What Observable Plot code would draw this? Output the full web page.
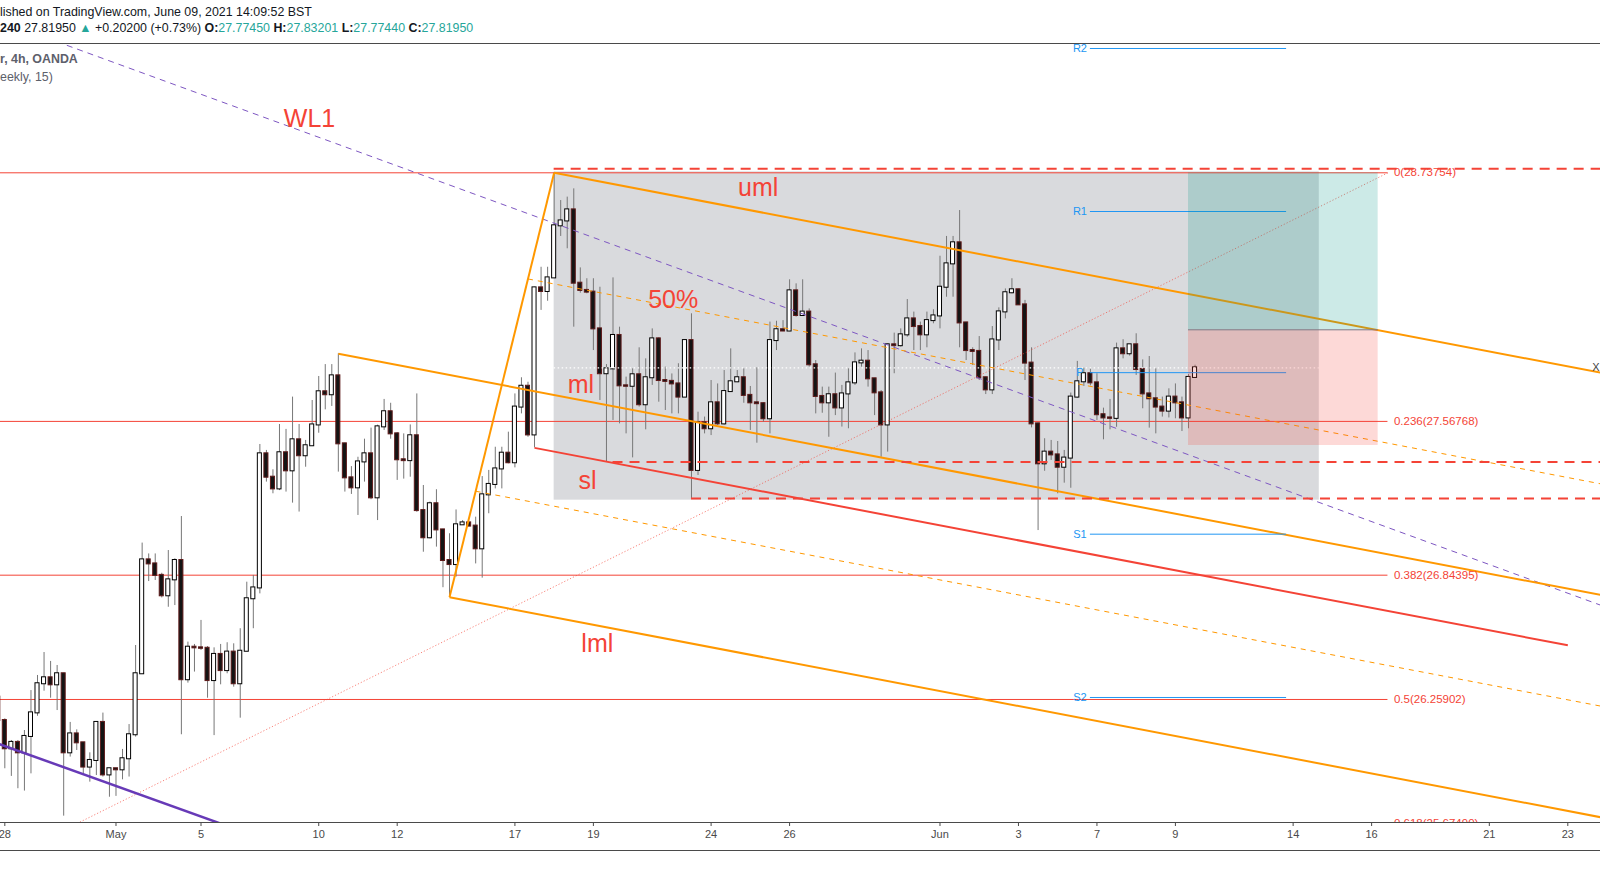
<!DOCTYPE html>
<html>
<head>
<meta charset="utf-8">
<script src="https://cdn.jsdelivr.net/npm/d3@7"></script>
<script src="https://cdn.jsdelivr.net/npm/@observablehq/plot@0.6"></script>
<style>
  body { margin: 0; background: #ffffff; }
  #wrap { position: relative; width: 1600px; height: 887px; overflow: hidden; font-family: "Liberation Sans", Arial, sans-serif; }
  #chart { position: absolute; left: 0; top: 0; }
  .hd { position: absolute; left: 0; white-space: nowrap; font-size: 12.4px; line-height: 13px; color: #131722; }
  .hd .tl { color: #26a69a; }
  .hd.g { color: #5d606b; }
  #bottomLine { position: absolute; left: 0; top: 850px; width: 1600px; height: 1px; background: #4a4a4a; }
</style>
</head>
<body>
<div id="wrap">
  <div id="chart"></div>
  <div class="hd" style="top:6px">lished on TradingView.com, June 09, 2021 14:09:52 BST</div>
  <div class="hd" style="top:22px"><b>240</b> 27.81950 <span class="tl">▲</span> +0.20200 (+0.73%) <b>O:</b><span class="tl">27.77450</span> <b>H:</b><span class="tl">27.83201</span> <b>L:</b><span class="tl">27.77440</span> <b>C:</b><span class="tl">27.81950</span></div>
  <div class="hd g" style="top:53px"><b>r, 4h, OANDA</b></div>
  <div class="hd g" style="top:71px">eekly, 15)</div>
  <div id="bottomLine"></div>
</div>
<script>
// ---------- 4h candles (bar -1 .. 182) ----------
const opens = [
26.270, 26.160, 26.027, 26.057, 26.008, 26.085, 26.196, 26.333, 26.361, 26.328,
26.380, 26.008, 26.097, 26.055, 25.941, 25.972, 26.151, 25.904, 25.933, 25.928,
25.980, 26.093, 26.380, 26.916, 26.897, 26.843, 26.747, 26.822, 26.913, 26.352,
26.505, 26.502, 26.500, 26.348, 26.471, 26.395, 26.482, 26.333, 26.486, 26.733,
26.784, 27.415, 27.305, 27.250, 27.420, 27.335, 27.481, 27.406, 27.453, 27.551,
27.707, 27.693, 27.782, 27.462, 27.302, 27.255, 27.377, 27.415, 27.208, 27.542,
27.613, 27.509, 27.387, 27.383, 27.500, 27.148, 27.020, 27.180, 27.057, 26.913,
26.894, 27.081, 27.090, 27.075, 26.968, 27.222, 27.271, 27.344, 27.418, 27.373,
27.635, 27.733, 27.504, 28.196, 28.179, 28.243, 28.488, 28.511, 28.563, 28.218,
28.184, 28.176, 28.003, 27.792, 27.815, 27.972, 27.735, 27.733, 27.787, 27.646,
27.773, 27.956, 27.760, 27.756, 27.744, 27.682, 27.948, 27.337, 27.561, 27.533,
27.655, 27.556, 27.708, 27.754, 27.773, 27.690, 27.655, 27.651, 27.580, 27.948,
27.999, 27.993, 28.182, 28.066, 28.082, 27.834, 27.685, 27.655, 27.693, 27.631,
27.697, 27.749, 27.843, 27.851, 27.768, 27.702, 27.551, 27.928, 27.924, 27.975,
28.050, 28.014, 27.975, 28.042, 28.064, 28.199, 28.309, 28.408, 28.031, 27.901,
27.897, 27.773, 27.716, 27.951, 28.083, 28.173, 28.187, 28.116, 27.842, 27.556,
27.368, 27.423, 27.410, 27.352, 27.395, 27.682, 27.754, 27.792, 27.749, 27.599,
27.584, 27.582, 27.909, 27.886, 27.928, 27.812, 27.697, 27.674, 27.635, 27.616,
27.682, 27.655, 27.584, 27.7745
];
const highs = [
26.280, 26.168, 26.066, 26.066, 26.113, 26.301, 26.372, 26.480, 26.438, 26.419,
26.382, 26.151, 26.116, 26.055, 26.008, 26.155, 26.195, 25.933, 25.933, 26.024,
26.141, 26.513, 26.995, 26.944, 26.944, 26.853, 26.960, 26.921, 27.120, 26.529,
26.518, 26.631, 26.508, 26.502, 26.518, 26.526, 26.521, 26.592, 26.811, 26.843,
27.459, 27.431, 27.340, 27.553, 27.530, 27.682, 27.553, 27.478, 27.666, 27.779,
27.835, 27.835, 27.886, 27.465, 27.355, 27.399, 27.484, 27.536, 27.550, 27.671,
27.653, 27.515, 27.509, 27.551, 27.697, 27.266, 27.188, 27.246, 27.060, 27.039,
27.151, 27.101, 27.093, 27.117, 27.308, 27.337, 27.446, 27.446, 27.517, 27.697,
27.773, 27.752, 28.199, 28.293, 28.293, 28.738, 28.607, 28.623, 28.662, 28.290,
28.239, 28.239, 28.199, 27.835, 28.243, 28.011, 27.776, 27.815, 27.914, 27.862,
28.003, 27.961, 27.823, 27.791, 27.839, 27.952, 28.074, 27.611, 27.588, 27.760,
27.744, 27.807, 27.909, 27.807, 27.815, 27.732, 27.820, 27.656, 28.035, 28.039,
28.042, 28.234, 28.215, 28.234, 28.097, 27.854, 27.729, 27.729, 27.795, 27.737,
27.815, 27.890, 27.909, 27.901, 27.770, 27.713, 27.932, 27.983, 28.003, 28.141,
28.082, 28.035, 28.082, 28.093, 28.345, 28.438, 28.438, 28.560, 28.034, 27.914,
27.967, 27.776, 28.014, 28.102, 28.191, 28.239, 28.190, 28.137, 27.914, 27.560,
27.486, 27.478, 27.473, 27.431, 27.701, 27.850, 27.818, 27.815, 27.792, 27.630,
27.671, 27.936, 27.952, 27.930, 27.980, 27.857, 27.873, 27.815, 27.682, 27.721,
27.744, 27.682, 27.788, 27.83201
];
const lows = [
26.150, 25.933, 25.897, 25.839, 25.828, 25.909, 26.180, 26.298, 26.265, 26.207,
25.710, 25.988, 26.019, 25.909, 25.870, 25.901, 25.894, 25.799, 25.803, 25.881,
25.894, 26.082, 26.378, 26.814, 26.819, 26.737, 26.693, 26.701, 26.093, 26.336,
26.388, 26.490, 26.265, 26.089, 26.328, 26.380, 26.317, 26.171, 26.484, 26.592,
26.756, 27.282, 27.227, 27.242, 27.235, 27.183, 27.141, 27.352, 27.450, 27.512,
27.622, 27.638, 27.329, 27.235, 27.224, 27.125, 27.282, 27.199, 27.101, 27.525,
27.484, 27.290, 27.296, 27.305, 27.140, 26.952, 27.015, 26.976, 26.785, 26.740,
26.835, 27.078, 27.072, 26.897, 26.830, 27.133, 27.250, 27.250, 27.368, 27.349,
27.603, 27.493, 27.443, 28.090, 28.133, 28.240, 28.438, 28.380, 28.011, 28.171,
28.168, 27.901, 27.666, 27.376, 27.572, 27.556, 27.509, 27.396, 27.635, 27.528,
27.737, 27.658, 27.619, 27.603, 27.603, 27.680, 27.205, 27.313, 27.509, 27.501,
27.548, 27.550, 27.705, 27.750, 27.653, 27.525, 27.465, 27.564, 27.509, 27.901,
27.990, 27.990, 28.058, 28.062, 27.823, 27.603, 27.606, 27.493, 27.595, 27.541,
27.533, 27.737, 27.823, 27.729, 27.595, 27.399, 27.423, 27.792, 27.917, 27.964,
27.901, 27.901, 27.914, 28.027, 28.003, 28.152, 28.152, 27.914, 27.854, 27.831,
27.760, 27.694, 27.694, 27.901, 28.050, 28.168, 28.113, 27.760, 27.537, 27.054,
27.333, 27.384, 27.227, 27.277, 27.253, 27.677, 27.732, 27.735, 27.572, 27.481,
27.528, 27.540, 27.862, 27.875, 27.784, 27.627, 27.536, 27.509, 27.588, 27.584,
27.580, 27.520, 27.533, 27.7744
];
const closes = [
26.160, 26.027, 26.057, 26.008, 26.085, 26.196, 26.333, 26.361, 26.328, 26.380,
26.008, 26.097, 26.055, 25.941, 25.972, 26.151, 25.904, 25.933, 25.928, 25.980,
26.093, 26.380, 26.916, 26.897, 26.843, 26.747, 26.822, 26.913, 26.352, 26.505,
26.502, 26.500, 26.348, 26.471, 26.395, 26.482, 26.333, 26.486, 26.733, 26.784,
27.415, 27.305, 27.250, 27.420, 27.335, 27.481, 27.406, 27.453, 27.551, 27.707,
27.693, 27.782, 27.462, 27.302, 27.255, 27.377, 27.415, 27.208, 27.542, 27.613,
27.509, 27.387, 27.383, 27.500, 27.148, 27.020, 27.180, 27.057, 26.913, 26.894,
27.081, 27.090, 27.075, 26.968, 27.222, 27.271, 27.344, 27.418, 27.373, 27.635,
27.733, 27.504, 28.196, 28.179, 28.243, 28.488, 28.511, 28.563, 28.218, 28.184,
28.176, 28.003, 27.792, 27.815, 27.972, 27.735, 27.733, 27.787, 27.646, 27.773,
27.956, 27.760, 27.756, 27.744, 27.682, 27.948, 27.337, 27.561, 27.533, 27.655,
27.556, 27.708, 27.754, 27.773, 27.690, 27.655, 27.651, 27.580, 27.948, 27.999,
27.993, 28.182, 28.066, 28.082, 27.834, 27.685, 27.655, 27.693, 27.631, 27.697,
27.749, 27.843, 27.851, 27.768, 27.702, 27.551, 27.928, 27.924, 27.975, 28.050,
28.014, 27.975, 28.042, 28.064, 28.199, 28.309, 28.408, 28.031, 27.901, 27.897,
27.773, 27.716, 27.951, 28.083, 28.173, 28.187, 28.116, 27.842, 27.556, 27.368,
27.423, 27.410, 27.352, 27.395, 27.682, 27.754, 27.792, 27.749, 27.599, 27.584,
27.582, 27.909, 27.886, 27.928, 27.812, 27.697, 27.674, 27.635, 27.616, 27.682,
27.655, 27.584, 27.7745, 27.8195
];
const firstBar = -1;

// ---------- x axis (bar index of each labelled day) ----------
const tickBars   = [0, 17, 30, 48, 60, 78, 90, 108, 120, 143, 155, 167, 179, 197, 209, 227, 239];
const tickLabels = ["28", "May", "5", "10", "12", "17", "19", "24", "26", "Jun", "3", "7", "9", "14", "16", "21", "23"];
const barDomain   = [-0.66, 244.0];
const priceDomain = [25.6801, 29.3460];

// ---------- Fibonacci retracement ----------
const fibRatios = ["0", "0.236", "0.382", "0.5", "0.618"];
const fibPrices = [28.73754, 27.56768, 26.84395, 26.25902, 25.67490];
const fibAnchorBars   = [-113, 211.5];
const fibAnchorPrices = [23.7805, 28.73754];

// ---------- pivot points (weekly) ----------
const pivotNames  = ["R2", "R1", "P", "S1", "S2"];
const pivotPrices = [29.3225, 28.5554, 27.797, 27.0369, 26.2684];
const pivotBars   = [166, 196];
const pivotLabelBar = 164.4;

// ---------- pitchfork and trend lines (bar, price) ----------
const forkLines = [
  {bar1: 68, price1: 26.740, bar2: 84,  price2: 28.7375},
  {bar1: 84, price1: 28.7375, bar2: 244, price2: 27.797},
  {bar1: 51, price1: 27.886, bar2: 244, price2: 26.751},
  {bar1: 68, price1: 26.740, bar2: 244, price2: 25.705}
];
const forkHalfLines = [
  {bar1: 80, price1: 28.238, bar2: 244, price2: 27.274},
  {bar1: 72, price1: 27.239, bar2: 244, price2: 26.228}
];
const slLine      = [{bar1: 81, price1: 27.443, bar2: 239, price2: 26.514}];
const warnDashed  = [{bar1: 0, price1: 29.444, bar2: 244, price2: 26.703}];
const warnSolid   = [{bar1: -1, price1: 26.051, bar2: 33, price2: 25.675}];
const levelStartBars = [84, 93, 105];
const levelPrices    = [28.756, 27.376, 27.205];
const levelEndBar    = 244;

// ---------- rectangle, price line, long position ----------
const boxBars   = [84, 201];
const boxPrices = [27.197, 28.742];
const lastPrice = 27.8195;
const positionBars = [181, 210];
const targetPrice = 28.7375, entryPrice = 27.9987, stopPrice = 27.4543;

// ---------- text labels ----------
const noteTexts  = ["WL1", "uml", "50%", "ml", "sl", "lml"];
const noteBars   = [46.6, 115.2, 102.2, 88.1, 89.1, 90.6];
const notePrices = [28.993, 28.668, 28.137, 27.741, 27.289, 26.522];

// ---------- build ----------
const candles = opens.map((o, k) => ({bar: firstBar + k, open: o, high: highs[k], low: lows[k], close: closes[k]}));
const tickMap = new Map(tickBars.map((b, k) => [b, tickLabels[k]]));
const fibRows = fibRatios.map((r, k) => ({label: `${r}(${fibPrices[k].toFixed(5)})`, price: fibPrices[k]}));
const pivotRows = pivotNames.map((n, k) => ({name: n, price: pivotPrices[k]}));
const levelRows = levelPrices.map((p, k) => ({start: levelStartBars[k], price: p}));
const noteRows = noteTexts.map((t, k) => ({text: t, bar: noteBars[k], price: notePrices[k]}));
const fibDiag = [{bar1: fibAnchorBars[0], price1: fibAnchorPrices[0], bar2: fibAnchorBars[1], price2: fibAnchorPrices[1]}];

const FONT = "'Liberation Sans', Arial, sans-serif";
const RED = "#f44336";
const ORANGE = "#ff9800";
const up = d => d.close >= d.open;
const link = (data, opts) => Plot.link(data, {x1: "bar1", y1: "price1", x2: "bar2", y2: "price2", clip: true, ...opts});

const chart = Plot.plot({
  width: 1600,
  height: 887,
  marginTop: 43,
  marginBottom: 65,
  marginLeft: 0,
  marginRight: 0,
  x: {type: "linear", domain: barDomain},
  y: {type: "linear", domain: priceDomain, axis: null},
  color: {type: "identity"},
  style: {background: "transparent", fontFamily: FONT},
  marks: [
    // grey rectangle
    Plot.rect([0], {x1: () => boxBars[0], x2: () => boxBars[1], y1: () => boxPrices[0], y2: () => boxPrices[1], fill: "#787b86", fillOpacity: 0.28}),
    // fib levels
    Plot.ruleY(fibRows, {y: "price", x1: () => barDomain[0], x2: () => fibAnchorBars[1], stroke: RED, strokeWidth: 1, clip: true}),
    // candles
    Plot.ruleX(candles, {x: "bar", y1: "low", y2: "high", stroke: "#777777", strokeWidth: 1, clip: true}),
    Plot.rect(candles, {
      x1: d => d.bar - 0.31, x2: d => d.bar + 0.31, y1: "open", y2: "close",
      fill: d => up(d) ? "#ffffff" : "#141414",
      stroke: d => up(d) ? "#000000" : "#5e1a1a",
      strokeWidth: 1, insetTop: -0.5, insetBottom: -0.5, clip: true
    }),
    // last price dotted line inside rectangle
    Plot.ruleY([lastPrice], {x1: () => boxBars[0], x2: () => boxBars[1], stroke: "#ffffff", strokeWidth: 1.2, strokeDasharray: "1.5,2.5"}),
    // fib diagonal
    link(fibDiag, {stroke: RED, strokeOpacity: 0.65, strokeWidth: 1, strokeDasharray: "1.2,2"}),
    // warning lines
    link(warnDashed, {stroke: "#7e57c2", strokeWidth: 1, strokeDasharray: "6,5"}),
    link(warnSolid, {stroke: "#673ab7", strokeWidth: 2.5}),
    // pitchfork
    link(forkHalfLines, {stroke: ORANGE, strokeWidth: 1, strokeDasharray: "5,5"}),
    link(forkLines, {stroke: ORANGE, strokeWidth: 2}),
    link(slLine, {stroke: RED, strokeWidth: 2}),
    // red dashed levels
    Plot.ruleY(levelRows, {y: "price", x1: "start", x2: () => levelEndBar, stroke: RED, strokeWidth: 2, strokeDasharray: "10,7", clip: true}),
    // pivots
    Plot.ruleY(pivotRows, {y: "price", x1: () => pivotBars[0], x2: () => pivotBars[1], stroke: "#2196f3", strokeWidth: 1}),
    Plot.text(pivotRows, {x: () => pivotLabelBar, y: "price", text: "name", fill: "#2196f3", fontSize: 11, fontFamily: FONT}),
    // long position
    Plot.rect([0], {x1: () => positionBars[0], x2: () => positionBars[1], y1: () => entryPrice, y2: () => targetPrice, fill: "#009688", fillOpacity: 0.2}),
    Plot.rect([0], {x1: () => positionBars[0], x2: () => positionBars[1], y1: () => stopPrice, y2: () => entryPrice, fill: RED, fillOpacity: 0.2}),
    Plot.ruleY([entryPrice], {x1: () => positionBars[0], x2: () => positionBars[1], stroke: "#787b86", strokeWidth: 1}),
    // fib labels
    Plot.text(fibRows, {x: () => fibAnchorBars[1], y: "price", text: "label", textAnchor: "start", dx: 6, fill: RED, fontSize: 11.5, fontFamily: FONT, clip: true}),
    // drawing notes
    Plot.text(noteRows, {x: "bar", y: "price", text: "text", fill: RED, fontSize: 25, fontFamily: FONT}),
    Plot.text(["X"], {x: () => barDomain[1], y: () => lastPrice, text: d => d, textAnchor: "end", dx: -1, fill: "#444444", fontSize: 11, fontFamily: FONT}),
    // frame lines
    Plot.ruleY([priceDomain[1]], {stroke: "#4a4a4a", strokeWidth: 1}),
    Plot.ruleY([priceDomain[0]], {stroke: "#4a4a4a", strokeWidth: 1}),
    Plot.axisX(tickBars, {tickFormat: d => tickMap.get(d), tickSize: 4, tickPadding: 4, fontSize: 11, color: "#4a4a4a", fontFamily: FONT, label: null})
  ]
});
document.getElementById("chart").appendChild(chart);
</script>
</body>
</html>
